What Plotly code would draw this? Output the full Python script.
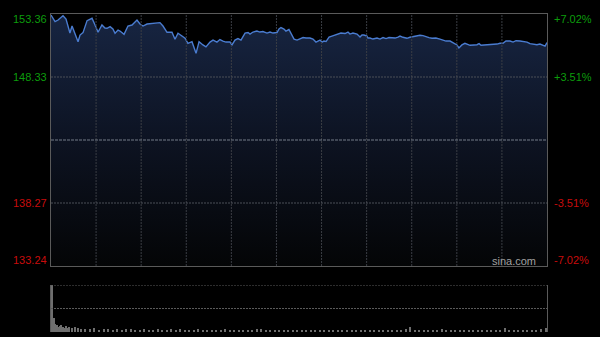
import plotly.graph_objects as go

# ---- data ----
prev_close = 143.30
price_min, price_max = 133.24, 153.36
minutes = [0, 2.7, 4.7, 8.0, 10.0, 12.6, 14.0, 16.0, 18.0, 19.3, 21.3, 24.0, 25.9, 27.3, 29.3, 31.3,
           33.9, 35.9, 37.3, 39.3, 41.2, 42.6, 44.6, 45.9, 48.6, 51.2, 53.9, 57.2, 59.2, 61.2, 63.9,
           67.2, 70.5, 72.5, 74.5, 77.2, 80.5, 82.5, 84.5, 87.2, 89.2, 91.1, 93.8, 96.5, 98.5,
           101.1, 103.1, 105.8, 107.8, 110.4, 112.4, 114.4, 116.4, 119.1, 120.4, 122.4, 124.4, 126.4,
           127.7, 129.1, 131.1, 132.4, 134.4, 137.0, 139.0, 141.0, 143.7, 145.7, 147.7, 150.4, 151.7,
           153.0, 155.0, 156.3, 158.3, 159.7, 161.7, 163.7, 165.7, 167.7, 169.7, 172.3, 174.3, 176.3,
           177.6, 179.0, 180.3, 181.6, 183.0, 185.0, 186.9, 188.9, 190.9, 192.9, 195.6, 197.6, 198.9,
           200.9, 203.6, 205.6, 206.9, 208.2, 210.2, 210.9, 212.2, 214.2, 216.9, 218.9, 220.9, 222.9,
           224.9, 226.9, 228.9, 230.9, 232.2, 234.2, 236.8, 238.8, 240.8, 243.5, 245.5, 247.5, 249.5,
           251.5, 253.5, 256.1, 258.8, 260.8, 262.8, 265.5, 268.1, 270.1, 271.4, 273.4, 275.4, 277.4,
           278.8, 281.4, 283.4, 284.8, 286.1, 288.1, 290.7, 294.7, 296.7, 298.7, 300.7, 302.7, 305.4,
           307.4, 309.4, 312.0, 314.7, 316.7, 318.7, 320.7, 323.3, 325.3, 327.3, 328.7, 330.0]
prices = [153.28, 152.75, 152.88, 153.22, 152.96, 151.84, 152.40, 151.84, 151.15, 151.68, 151.87,
          152.83, 152.96, 153.02, 152.48, 151.90, 152.48, 152.24, 152.22, 152.35, 152.16, 151.82,
          152.08, 152.00, 151.74, 152.40, 152.48, 152.88, 152.56, 152.40, 152.56, 152.60, 152.62,
          152.67, 152.40, 151.90, 151.90, 151.34, 151.82, 151.60, 151.42, 151.02, 151.15, 150.22,
          151.15, 150.89, 150.73, 151.12, 151.28, 151.12, 151.32, 151.20, 151.12, 151.12, 150.89,
          151.28, 151.40, 151.28, 151.52, 151.84, 151.88, 151.76, 151.92, 152.00, 151.92, 151.96,
          151.84, 151.92, 151.84, 151.88, 152.16, 152.28, 152.16, 152.00, 152.12, 151.84, 151.36,
          151.28, 151.36, 151.48, 151.44, 151.44, 151.36, 151.12, 151.20, 151.28, 151.12, 151.20,
          151.16, 151.52, 151.60, 151.68, 151.76, 151.84, 151.80, 151.92, 151.76, 151.84, 151.76,
          151.52, 151.68, 151.68, 151.60, 151.44, 151.44, 151.36, 151.44, 151.36, 151.48, 151.40,
          151.48, 151.44, 151.44, 151.52, 151.60, 151.50, 151.42, 151.50, 151.55, 151.60, 151.66,
          151.63, 151.58, 151.47, 151.42, 151.44, 151.36, 151.28, 151.20, 151.20, 151.04, 150.89,
          150.65, 150.89, 151.02, 150.91, 150.86, 150.89, 150.91, 150.99, 150.86, 150.89, 150.91,
          150.91, 150.96, 151.02, 151.02, 151.20, 151.20, 151.12, 151.23, 151.20, 151.18, 151.12,
          150.99, 150.94, 150.91, 150.96, 150.89, 150.80, 151.08]

vol_minutes = [0.4, 1, 2, 3, 4, 5, 6, 7, 8, 9, 10, 11, 12, 14, 16, 18, 20] + \
              list(range(23, 327, 3)) + [329.6]
volumes = [100, 45, 30, 17, 14, 10, 12, 15, 11, 9, 13, 9, 10, 8, 11, 8, 7,
           7, 6, 8, 5, 6, 7, 5, 6, 5, 7,
           6, 5, 4, 6, 5, 5, 6, 4, 5, 6,
           5, 7, 5, 4, 5, 6, 4, 5, 5, 4,
           5, 6, 4, 5, 4, 5, 5, 4, 6, 7,
           5, 4, 5, 4, 4, 5, 4, 4, 5, 4,
           4, 5, 4, 4, 5, 4, 4, 5, 4, 4,
           5, 4, 4, 5, 4, 5, 4, 4, 5, 4,
           5, 6, 11, 5, 4, 5, 4, 4, 5, 6,
           5, 4, 5, 4, 4, 5, 4, 4, 5, 4,
           4, 5, 4, 9, 5, 4, 5, 4, 4, 5,
           5, 6,
           8]

left_vals = [153.36, 148.33, 138.27, 133.24]
left_labels = ["153.36", "148.33", "138.27", "133.24"]
right_labels = ["+7.02%", "+3.51%", "-3.51%", "-7.02%"]
label_colors = ["#0c9c0c", "#0c9c0c", "#c80c0c", "#c80c0c"]
label_shift = [-5, 0, 0, 6]
grid_minutes = [30, 60, 90, 120, 150, 180, 210, 240, 270, 300]
grid_prices = [148.33, 138.27]
vol_grid = [50, 100]

# ---- figure ----
fig = go.Figure()
fig.add_trace(go.Scatter(x=[0, 330], y=[price_min, price_min], mode="lines",
                         line=dict(width=0), hoverinfo="skip", showlegend=False,
                         xaxis="x", yaxis="y"))
fig.add_trace(go.Scatter(x=minutes, y=prices, mode="lines", fill="tonexty",
                         line=dict(color="#4a7cd0", width=1.4),
                         fillgradient=dict(type="vertical",
                                           colorscale=[[0, "#040506"], [0.5, "#0d1322"], [1, "#172542"]]),
                         showlegend=False, xaxis="x", yaxis="y"))
fig.add_trace(go.Bar(x=vol_minutes, y=volumes, width=0.8,
                     marker=dict(color="#6e6e6e", line=dict(width=0)),
                     showlegend=False, xaxis="x2", yaxis="y2"))

xdom = [51 / 600, 547 / 600]
fig.update_layout(
    width=600, height=337, margin=dict(l=0, r=0, t=0, b=0),
    paper_bgcolor="#000000", plot_bgcolor="#000000",
    font=dict(family="Liberation Sans, Arial", size=11),
    bargap=0,
    xaxis=dict(domain=xdom, range=[0, 330], showgrid=False, showticklabels=False,
               zeroline=False, showline=True, mirror=True, linecolor="#5a5a5a", linewidth=1,
               ticks=""),
    yaxis=dict(domain=[1 - 266 / 337, 1 - 14 / 337], range=[price_min, price_max],
               showgrid=False, showticklabels=False, zeroline=False, showline=True, mirror=True,
               linecolor="#5a5a5a", linewidth=1, ticks=""),
    xaxis2=dict(domain=xdom, range=[0, 330], showgrid=False, showticklabels=False,
                zeroline=False, showline=False, anchor="y2"),
    yaxis2=dict(domain=[1 - 332 / 337, 1 - 285 / 337], range=[0, 100],
                showgrid=False, showticklabels=False,
                zeroline=False, showline=True, mirror=True, linecolor="#5a5a5a",
                anchor="x2", ticks=""),
)

for gx in grid_minutes:
    fig.add_shape(type="line", xref="x", yref="y", x0=gx, x1=gx, y0=price_min, y1=price_max,
                  layer="above", line=dict(color="#3a3d44", width=1, dash="2px,1px"))
for gy in grid_prices:
    fig.add_shape(type="line", xref="x", yref="y", x0=0, x1=330, y0=gy, y1=gy,
                  layer="above", line=dict(color="#4a4e56", width=1, dash="2px,1px"))
fig.add_shape(type="line", xref="x", yref="y", x0=0, x1=330, y0=prev_close, y1=prev_close,
              layer="above", line=dict(color="#747c88", width=1, dash="3px,1px"))
for gv in vol_grid:
    fig.add_shape(type="line", xref="x2", yref="y2", x0=0, x1=330, y0=gv, y1=gv,
                  layer="above", line=dict(color="#5a5a5a", width=1, dash="2px,1px"))

for v, lab, rl, c, s in zip(left_vals, left_labels, right_labels, label_colors, label_shift):
    fig.add_annotation(xref="paper", yref="y", x=49 / 600, y=v, yshift=s, text=lab,
                       showarrow=False, xanchor="right", yanchor="middle",
                       font=dict(color=c, size=11))
    fig.add_annotation(xref="paper", yref="y", x=552 / 600, y=v, yshift=s, text=rl,
                       showarrow=False, xanchor="left", yanchor="middle",
                       font=dict(color=c, size=11))

fig.add_annotation(xref="paper", yref="paper", x=538 / 600, y=1 - 261 / 337, text="sina.com",
                   showarrow=False, xanchor="right", yanchor="middle",
                   font=dict(color="#a0a0a0", size=11))

fig.write_html("out.html")
